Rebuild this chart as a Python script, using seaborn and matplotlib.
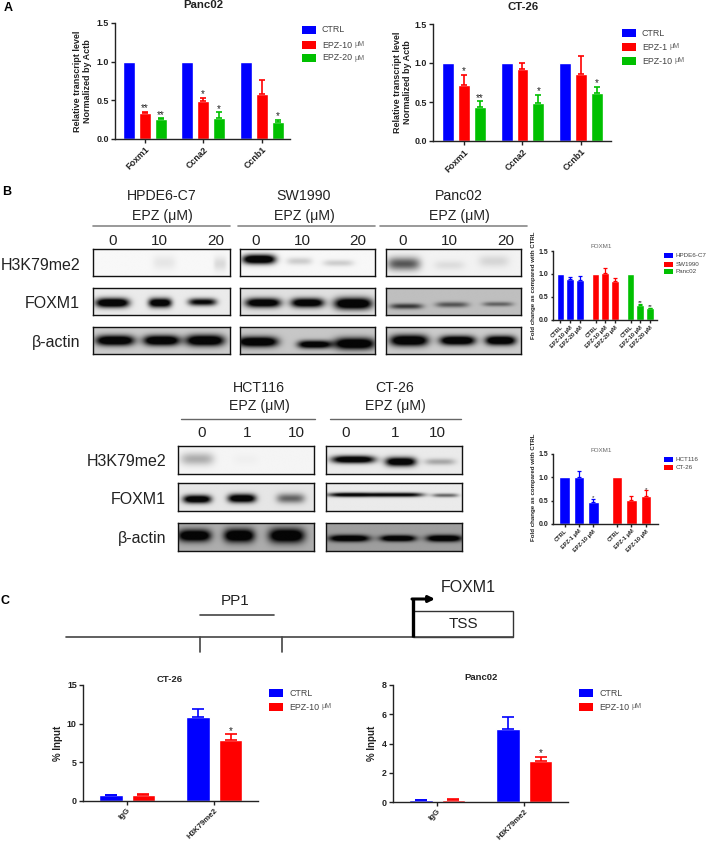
import numpy as np
import pandas as pd
import matplotlib
matplotlib.use('Agg')
import matplotlib.pyplot as plt
import seaborn as sns
from matplotlib.patches import Rectangle

W, H = 709, 844
BLUE, RED, GREEN = '#0000ff', '#ff0000', '#00c000'
DARK = '#222222'

# panel A
genes = ['Foxm1', 'Ccna2', 'Ccnb1']
panc_cond = ['CTRL', 'EPZ-10 μM', 'EPZ-20 μM']
panc_vals = [[1, 1, 1], [0.33, 0.49, 0.58], [0.25, 0.26, 0.21]]
panc_tops = [[1, 1, 1], [0.35, 0.53, 0.76], [0.26, 0.34, 0.24]]
panc_star = [['', '', ''], ['**', '*', ''], ['**', '*', '*']]

ct_cond = ['CTRL', 'EPZ-1 μM', 'EPZ-10 μM']
ct_vals = [[1, 1, 1], [0.72, 0.92, 0.86], [0.44, 0.49, 0.62]]
ct_tops = [[1, 1, 1], [0.85, 1.0, 1.09], [0.51, 0.59, 0.69]]
ct_star = [['', '', ''], ['*', '', ''], ['**', '*', '*']]

# panel B small charts
b1_lines = ['HPDE6-C7', 'SW1990', 'Panc02']
b1_ticks = ['CTRL', 'EPZ-10 μM', 'EPZ-20 μM'] * 3
b1_vals = [[1, 0.9, 0.87], [1, 1.02, 0.85], [1, 0.33, 0.25]]
b1_tops = [[1, 0.93, 0.95], [1, 1.12, 0.91], [1, 0.35, 0.26]]
b1_star = [['', '', ''], ['', '', ''], ['', '**', '**']]

b2_lines = ['HCT116', 'CT-26']
b2_ticks = ['CTRL', 'EPZ-1 μM', 'EPZ-10 μM'] * 2
b2_vals = [[1, 1, 0.48], [1, 0.52, 0.61]]
b2_tops = [[1, 1.14, 0.54], [1, 0.6, 0.72]]
b2_star = [['', '', '*'], ['', '', '*']]

# panel C
chip_groups = ['IgG', 'H3K79me2']
chip_cond = ['CTRL', 'EPZ-10 μM']
chip_ct_vals = [[0.75, 10.8], [0.8, 7.9]]
chip_ct_tops = [[0.78, 11.9], [0.85, 8.6]]
chip_panc_vals = [[0.14, 5.0], [0.17, 2.8]]
chip_panc_tops = [[0.15, 5.8], [0.19, 3.1]]
chip_star = [['', ''], ['', '*']]

# blot bands: (x, half width, strength, y, thickness)
hpde_h3 = [(.52, .09, .10, .5, .3), (.93, .05, .15, .55, .3)]
sw_h3 = [(.14, .13, 1.0, .38, .2), (.44, .1, .2, .45, .16), (.73, .12, .2, .52, .14)]
panc_h3 = [(.13, .13, .55, .55, .28), (.47, .12, .12, .6, .2), (.8, .12, .15, .45, .25)]
hpde_fox = [(.14, .13, 1, .55, .2), (.49, .09, .95, .55, .2), (.8, .11, .8, .52, .16)]
sw_fox = [(.17, .14, .95, .55, .2), (.5, .13, .95, .55, .2), (.84, .15, 1, .58, .25)]
panc_fox = [(.15, .13, .6, .68, .12), (.49, .13, .5, .62, .12), (.83, .12, .45, .6, .1)]
hpde_act = [(.16, .15, 1, .5, .22), (.5, .14, 1, .5, .22), (.82, .15, 1, .5, .24)]
sw_act = [(.13, .16, 1, .55, .22), (.55, .13, .95, .65, .17), (.85, .16, 1, .62, .25)]
panc_act = [(.17, .15, 1, .5, .24), (.53, .14, 1, .5, .2), (.85, .12, 1, .5, .2)]
hct_h3 = [(.14, .13, .3, .48, .25), (.5, .1, .04, .5, .2)]
ct_h3 = [(.2, .17, .95, .5, .15), (.55, .12, .95, .58, .18), (.84, .12, .3, .58, .13)]
hct_fox = [(.14, .11, .95, .58, .17), (.47, .11, .95, .55, .18), (.83, .11, .5, .55, .2)]
ct_fox = [(.2, .2, .85, .42, .09), (.55, .18, .8, .42, .09), (.88, .1, .5, .44, .08)]
hct_act = [(.12, .13, 1, .45, .25), (.45, .12, 1, .45, .28), (.8, .14, 1, .45, .3)]
ct_act = [(.17, .16, 1, .55, .14), (.53, .14, 1, .55, .13), (.87, .14, 1, .55, .14)]

sns.set_theme(style='ticks')
plt.rcParams['font.family'] = ['Liberation Sans', 'DejaVu Sans']

fig = plt.figure(figsize=(W / 100, H / 100), dpi=100)


def px_axes(x0, y0, x1, y1):
    return fig.add_axes([x0 / W, 1 - y1 / H, (x1 - x0) / W, (y1 - y0) / H])


ov = fig.add_axes([0, 0, 1, 1], zorder=10)
ov.set_xlim(0, W)
ov.set_ylim(H, 0)
ov.axis('off')


def txt(x, y, s, size=10.2, ha='center', weight='normal', color='#222222', rot=0):
    return ov.text(x, y, s, fontsize=size, ha=ha, va='center', fontweight=weight,
                   color=color, rotation=rot)


def legend(x, ys, labels, colors, w=14, h=8, size=6.4, gap=6):
    for y, lab, c in zip(ys, labels, colors):
        ov.add_patch(Rectangle((x, y), w, h, color=c, lw=0))
        if lab.endswith(' μM'):
            t = txt(x + w + gap, y + h / 2, lab[:-3], size, ha='left', color='#444444')
            ov.annotate('μM', xy=(1, 0.5), xycoords=t, xytext=(1.5, 0), textcoords='offset points',
                        fontsize=size * 0.8, va='center', color='#666666')
        else:
            txt(x + w + gap, y + h / 2, lab, size, ha='left', color='#444444')


def finish_axes(ax, ylim, yticks, size, ticksize, xsize=None):
    ax.set_ylim(*ylim)
    ax.set_yticks(yticks)
    ax.set_xlabel('')
    ax.set_ylabel('')
    sns.despine(ax=ax)
    for s in ['left', 'bottom']:
        ax.spines[s].set_linewidth(1.0)
        ax.spines[s].set_color(DARK)
    ax.tick_params(axis='both', width=1.0, length=ticksize, color=DARK, pad=1.5, labelcolor=DARK)
    for t in ax.get_yticklabels():
        t.set_fontsize(size)
        t.set_fontweight('bold')
    for t in ax.get_xticklabels():
        t.set_fontsize(xsize or size)
        t.set_fontweight('bold')
        t.set_rotation(45)
        t.set_ha('right')
        t.set_rotation_mode('anchor')


def add_err(ax, tops, stars, colors, lw=1.2, cap=2.4, starsize=7, pad=-1):
    for cont, top, star, c in zip(ax.containers, tops, stars, colors):
        for bar, tp, st in zip(cont, top, star):
            xc = bar.get_x() + bar.get_width() / 2
            val = bar.get_height()
            if tp > val:
                ax.errorbar(xc, val, yerr=[[0], [tp - val]], color=c, elinewidth=lw,
                            capsize=cap, capthick=lw, zorder=3)
            if st:
                ax.annotate(st, (xc, tp), xytext=(0, pad), textcoords='offset points',
                            ha='center', va='bottom', fontsize=starsize, color=DARK)


def group_bars(box, xlim, groups, conds, vals, tops, stars, colors, ylim, yticks,
               width=0.82, gap=0.25, cap=2.4, xsize=None):
    ax = px_axes(*box)
    df = pd.DataFrame({
        'group': groups * len(conds),
        'cond': np.repeat(conds, len(groups)),
        'val': np.ravel(vals),
    })
    sns.barplot(data=df, x='group', y='val', hue='cond', order=groups, hue_order=conds,
                palette=colors, width=width, gap=gap, saturation=1, errorbar=None, legend=False, ax=ax)
    add_err(ax, tops, stars, colors, cap=cap)
    ax.set_xlim(*xlim)
    finish_axes(ax, ylim, yticks, 6.4, 3, xsize)
    return ax


def small_bars(box, xlim, names, ticks, vals, tops, stars, colors, step, width):
    ax = px_axes(*box)
    n = len(vals[0])
    pos = np.concatenate([np.arange(n) + g * step for g in range(len(names))])
    df = pd.DataFrame({'pos': pos, 'val': np.ravel(vals), 'line': np.repeat(names, n)})
    sns.barplot(data=df, x='pos', y='val', hue='line', hue_order=names, palette=colors, native_scale=True,
                dodge=False, width=width, saturation=1, errorbar=None, legend=False, ax=ax)
    add_err(ax, tops, stars, colors, lw=0.9, cap=1.5, starsize=4.5, pad=-1)
    ax.set_xlim(*xlim)
    ax.set_xticks(pos)
    ax.set_xticklabels(ticks)
    finish_axes(ax, (0, 1.5), [0, 0.5, 1.0, 1.5], 4.1, 1.8)
    for t in ax.get_yticklabels():
        t.set_fontsize(5)
    return ax


def blot(box, bands, bg):
    ax = px_axes(*box)
    xx, yy = np.meshgrid(np.linspace(0, 1, 240), np.linspace(0, 1, 60))
    dark = np.zeros_like(xx)
    for xc, hw, st, yc, th in bands:
        dark += st * np.exp(-((xx - xc) / hw) ** 4) * np.exp(-((yy - yc) / th) ** 2)
    ax.imshow(bg * (1 - np.clip(dark ** 1.3 * 1.4, 0, 0.97)), cmap='gray', vmin=0, vmax=1, aspect='auto')
    ax.set_xticks([])
    ax.set_yticks([])
    for s in ax.spines.values():
        s.set_linewidth(1.0)
        s.set_color('#111111')


# ---- panel A
txt(8, 8, 'A', 9, weight='bold', color='black')
colors3 = [BLUE, RED, GREEN]
group_bars((115, 23, 290, 138.5), (-0.51, 2.487), genes, panc_cond, panc_vals, panc_tops, panc_star,
           colors3, (0, 1.5), [0, 0.5, 1.0, 1.5])
group_bars((433, 24, 611, 141), (-0.53, 2.513), genes, ct_cond, ct_vals, ct_tops, ct_star,
           colors3, (0, 1.5), [0, 0.5, 1.0, 1.5])
txt(203, 5, 'Panc02', 8.2, weight='bold')
txt(523, 7, 'CT-26', 8.2, weight='bold')
for x, s in [(78, 'Relative transcript level'), (88, 'Normalized by Actb')]:
    txt(x, 81, s, 6.5, weight='bold', rot=90)
for x, s in [(398, 'Relative transcript level'), (408, 'Normalized by Actb')]:
    txt(x, 82, s, 6.5, weight='bold', rot=90)
legend(302, [26, 41, 54], panc_cond, colors3)
legend(622, [29, 43, 57], ct_cond, colors3)

# ---- panel B blots
txt(7, 192, 'B', 9, weight='bold', color='black')
cols1 = [(93, 230), (240, 375), (386, 521)]
rows1 = [(249, 276), (288, 315), (327, 354)]
grid1 = [[hpde_h3, sw_h3, panc_h3], [hpde_fox, sw_fox, panc_fox], [hpde_act, sw_act, panc_act]]
bgs1 = [[.97, .97, .95], [.92, .88, .75], [.8, .78, .8]]
for (y0, y1), row, bg in zip(rows1, grid1, bgs1):
    for (x0, x1), bands, b in zip(cols1, row, bg):
        blot((x0, y0, x1, y1), bands, b)

heads1 = [(162, 'HPDE6-C7', 93, 230), (304, 'SW1990', 238, 375), (459, 'Panc02', 380, 527)]
for xc, name, l0, l1 in heads1:
    txt(xc, 196, name)
    txt(xc, 216, 'EPZ (μM)')
    ov.plot([l0, l1], [226, 226], color='#888888', lw=1.2)
nums1 = [(113, '0'), (159, '10'), (216, '20'), (256, '0'), (302, '10'), (358, '20'),
         (403, '0'), (449, '10'), (506, '20')]
for x, s in nums1:
    txt(x, 241, s, 11)
for y, s in [(265, 'H3K79me2'), (303, 'FOXM1'), (343, 'β-actin')]:
    txt(80, y, s, 11.5, ha='right')

cols2 = [(178, 314), (326, 462)]
rows2 = [(446, 474), (483, 511), (523, 551)]
grid2 = [[hct_h3, ct_h3], [hct_fox, ct_fox], [hct_act, ct_act]]
bgs2 = [[.96, .92], [.9, .92], [.68, .62]]
for (y0, y1), row, bg in zip(rows2, grid2, bgs2):
    for (x0, x1), bands, b in zip(cols2, row, bg):
        blot((x0, y0, x1, y1), bands, b)
for xc, name, l0, l1 in [(259, 'HCT116', 181, 315), (395, 'CT-26', 330, 461)]:
    txt(xc, 388, name)
    txt(xc, 406, 'EPZ (μM)')
    ov.plot([l0, l1], [419, 419], color='#666666', lw=1)
for x, s in [(202, '0'), (247, '1'), (296, '10'), (346, '0'), (395, '1'), (437, '10')]:
    txt(x, 433, s, 11)
for y, s in [(462, 'H3K79me2'), (499, 'FOXM1'), (538, 'β-actin')]:
    txt(166, y, s, 11.5, ha='right')

# ---- panel B small charts
small_bars((553, 251, 657, 320), (-0.78, 10.05), b1_lines, b1_ticks, b1_vals, b1_tops, b1_star,
           colors3, 3.65, 0.8)
small_bars((553, 454, 658, 524), (-0.8, 6.49), b2_lines, b2_ticks, b2_vals, b2_tops, b2_star,
           [BLUE, RED], 3.65, 0.74)
txt(601, 247, 'FOXM1', 4.5, color='#666666')
txt(601, 450, 'FOXM1', 4.5, color='#666666')
txt(534, 285, 'Fold change as compared with CTRL', 4.4, weight='bold', rot=90)
txt(534, 487, 'Fold change as compared with CTRL', 4.4, weight='bold', rot=90)
legend(664, [253, 262, 269], b1_lines, colors3, w=9, h=5, size=4.5, gap=3)
legend(664, [457, 465], b2_lines, [BLUE, RED], w=9, h=5, size=4.5, gap=3)

# ---- panel C schematic
txt(5, 601, 'C', 9, weight='bold', color='black')
ov.plot([66, 513], [637, 637], color='#444444', lw=1.2)
ov.plot([200, 200], [637, 652], color='#444444', lw=1.2)
ov.plot([282, 282], [637, 652], color='#444444', lw=1.2)
ov.plot([200, 274], [615, 615], color='#444444', lw=1.2)
ov.add_patch(Rectangle((413, 611), 100, 26, fill=False, ec='#333333', lw=1))
ov.plot([413, 413], [637, 599], color='black', lw=2.4, solid_capstyle='butt')
ov.annotate('', xy=(435, 599), xytext=(412, 599),
            arrowprops=dict(arrowstyle='-|>', color='black', lw=2.2, mutation_scale=9, shrinkA=0, shrinkB=0))
txt(235, 601, 'PP1', 11)
txt(463, 624, 'TSS', 11)
txt(468, 587, 'FOXM1', 11.5)

# ---- panel C bars
colors2 = [BLUE, RED]
group_bars((83, 685, 258, 801), (-0.504, 1.5), chip_groups, chip_cond, chip_ct_vals, chip_ct_tops, chip_star,
           colors2, (0, 15), [0, 5, 10, 15], width=0.745, gap=0.277, cap=4, xsize=5.7)
group_bars((393, 685, 568, 802), (-0.504, 1.5), chip_groups, chip_cond, chip_panc_vals, chip_panc_tops, chip_star,
           colors2, (0, 8), [0, 2, 4, 6, 8], width=0.745, gap=0.277, cap=4, xsize=5.7)
txt(170, 680, 'CT-26', 6.8, weight='bold')
txt(481, 678, 'Panc02', 6.8, weight='bold')
txt(58, 743, '% Input', 7, weight='bold', rot=90)
txt(372, 743, '% Input', 7, weight='bold', rot=90)
legend(269, [689, 703], chip_cond, colors2)
legend(579, [689, 703], chip_cond, colors2)

fig.savefig('out.png', dpi=100)
